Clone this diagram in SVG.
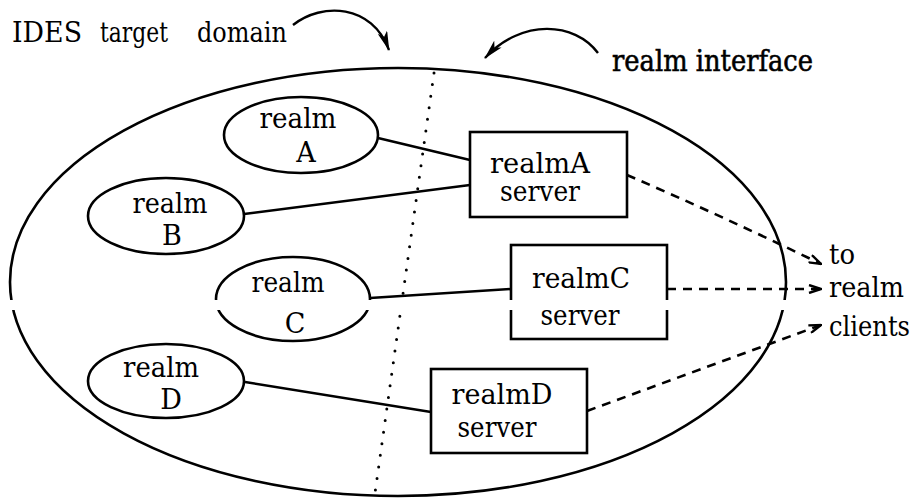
<svg xmlns="http://www.w3.org/2000/svg" width="918" height="499" viewBox="0 0 918 499">
<style>
.c{text-anchor:middle}
.sh{fill:none;stroke:#000;stroke-width:2.6}
.ln{fill:none;stroke:#000;stroke-width:2.4}
.ds{fill:none;stroke:#000;stroke-width:2.6;stroke-dasharray:9 7}
.dot{fill:none;stroke:#000;stroke-width:3;stroke-linecap:round;stroke-dasharray:0 11.7}
</style>
<defs>
<marker id="open" viewBox="0 0 14 10" refX="13" refY="5" markerWidth="14" markerHeight="10" markerUnits="userSpaceOnUse" orient="auto">
<path d="M1,1 L13,5 L1,9" fill="none" stroke="#000" stroke-width="2.4"/>
</marker>
<marker id="fill" viewBox="0 0 20 10" refX="19" refY="5" markerWidth="20" markerHeight="10" markerUnits="userSpaceOnUse" orient="auto">
<path d="M0,0 L20,5 L0,10 L5,5 z" fill="#000"/>
</marker>
</defs>
<rect width="918" height="499" fill="#fff"/>

<g id="domain">
<ellipse class="sh" cx="398" cy="282" rx="388" ry="214"/>
<path class="dot" d="M434,73 L375,493"/>
</g>

<g font-family="DejaVu Serif, serif" font-size="27" fill="#000">
<g id="realmA"><ellipse class="sh" cx="301" cy="135" rx="77" ry="38"/>
<text class="c" x="298" y="128" textLength="77" lengthAdjust="spacingAndGlyphs">realm</text>
<text class="c" x="306" y="162">A</text></g>

<g id="realmB"><ellipse class="sh" cx="166" cy="216" rx="78" ry="38"/>
<text class="c" x="170" y="213" textLength="75" lengthAdjust="spacingAndGlyphs">realm</text>
<text class="c" x="172" y="245">B</text></g>

<g id="realmC"><ellipse class="sh" cx="293" cy="299" rx="77" ry="42"/>
<text class="c" x="288" y="292" textLength="73" lengthAdjust="spacingAndGlyphs">realm</text>
<text class="c" x="295" y="333">C</text></g>

<g id="realmD"><ellipse class="sh" cx="166" cy="381" rx="78" ry="37"/>
<text class="c" x="161" y="377" textLength="76" lengthAdjust="spacingAndGlyphs">realm</text>
<text class="c" x="171" y="409">D</text></g>

<g id="serverA"><rect class="sh" x="470" y="132" width="157" height="85"/>
<text class="c" x="540" y="173" textLength="100" lengthAdjust="spacingAndGlyphs">realmA</text>
<text class="c" x="540" y="201" textLength="80" lengthAdjust="spacingAndGlyphs">server</text></g>

<g id="serverC"><rect class="sh" x="511" y="245" width="156" height="94"/>
<text class="c" x="581" y="288" textLength="98" lengthAdjust="spacingAndGlyphs">realmC</text>
<text class="c" x="580" y="325" textLength="79" lengthAdjust="spacingAndGlyphs">server</text></g>

<g id="serverD"><rect class="sh" x="431" y="369" width="156" height="84"/>
<text class="c" x="502" y="404" textLength="101" lengthAdjust="spacingAndGlyphs">realmD</text>
<text class="c" x="497" y="437" textLength="79" lengthAdjust="spacingAndGlyphs">server</text></g>
</g>

<g id="connectors">
<path class="ln" d="M378,138 L470,160"/>
<path class="ln" d="M244,214 L470,185"/>
<path class="ln" d="M370,298 L511,289"/>
<path class="ln" d="M245,382 L431,412"/>
<path class="ds" d="M627,175 Q720,215 821,264" marker-end="url(#open)"/>
<path class="ds" d="M667,289 L821,289" marker-end="url(#open)"/>
<path class="ds" d="M587,411 L821,325" marker-end="url(#open)"/>
<path class="ln" stroke-width="3" d="M293,25 C322,2 372,4 389,50" marker-end="url(#fill)"/>
<path class="ln" stroke-width="3" d="M598,53 C575,22 522,18 485,58" marker-end="url(#fill)"/>
</g>

<rect x="0" y="300" width="918" height="10" fill="#fff"/>

<g id="labels" font-family="DejaVu Serif, serif" font-size="27" fill="#000">
<text x="12" y="42" textLength="70" lengthAdjust="spacingAndGlyphs">IDES</text>
<text x="100" y="42" textLength="68" lengthAdjust="spacingAndGlyphs">target</text>
<text x="197" y="42" textLength="90" lengthAdjust="spacingAndGlyphs">domain</text>
<text x="612" y="71" font-size="29" textLength="201" lengthAdjust="spacingAndGlyphs" stroke="#000" stroke-width="0.6">realm interface</text>
<text x="829" y="264" textLength="26" lengthAdjust="spacingAndGlyphs">to</text>
<text x="829" y="297" textLength="75" lengthAdjust="spacingAndGlyphs">realm</text>
<text x="829" y="336" textLength="81" lengthAdjust="spacingAndGlyphs">clients</text>
</g>
</svg>
